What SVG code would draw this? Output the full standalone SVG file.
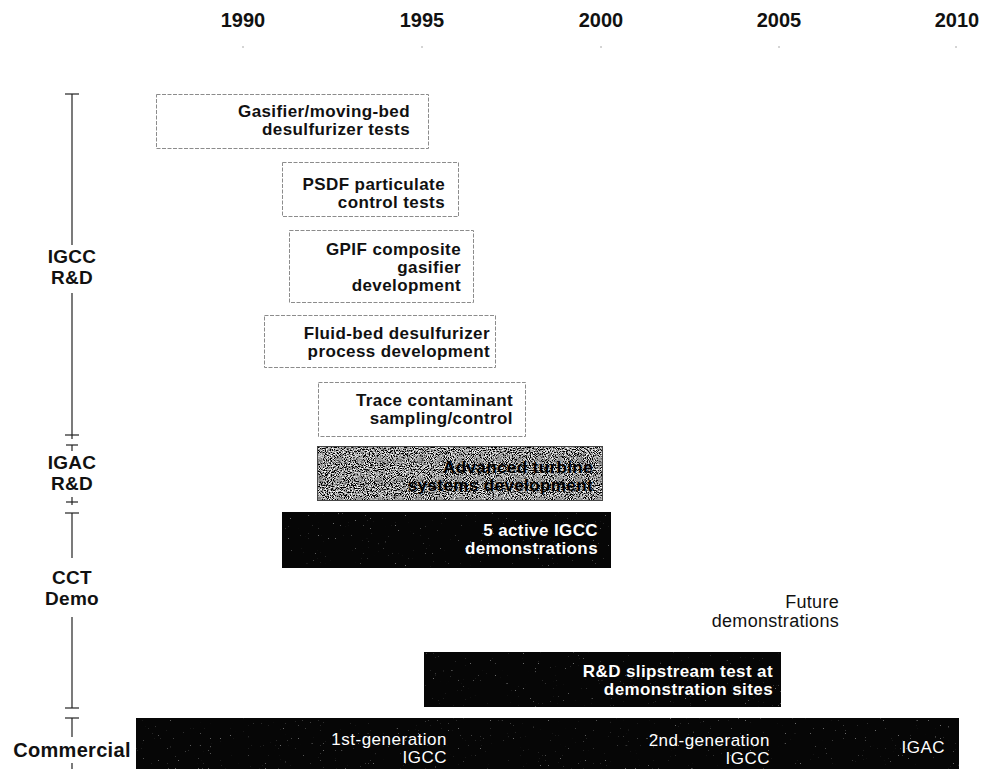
<svg xmlns="http://www.w3.org/2000/svg" width="994" height="769" viewBox="0 0 994 769">
  <style>
    .yr { font-family: "Liberation Sans", Arial, sans-serif; font-weight: bold; font-size: 20px; text-anchor: middle; fill: #111; }
    .side { font-family: "Liberation Sans", Arial, sans-serif; font-weight: bold; font-size: 19px; letter-spacing: 0.3px; text-anchor: middle; fill: #111; }
    .lbl { font-family: "Liberation Sans", Arial, sans-serif; font-weight: bold; font-size: 17px; letter-spacing: 0.4px; text-anchor: end; fill: #111; }
    .lblw { font-family: "Liberation Sans", Arial, sans-serif; font-weight: bold; font-size: 17px; letter-spacing: 0.4px; text-anchor: end; fill: #fff; }
    .reg { font-family: "Liberation Sans", Arial, sans-serif; font-size: 17px; letter-spacing: 0.5px; text-anchor: end; fill: #fff; }
    .regk { font-family: "Liberation Sans", Arial, sans-serif; font-size: 18px; letter-spacing: 0.3px; text-anchor: end; fill: #111; }
    .open { fill: #fff; stroke: #8c8c8c; stroke-width: 1; stroke-dasharray: 4 1.5; }
    .dark { fill: #060606; }
    .axis { stroke: #222; stroke-width: 1.2; fill: none; }
    .tick { stroke: #aaa; stroke-width: 1; }
  </style>
  <defs>
    <!-- fine halftone speckle for the shaded bar -->
    <filter id="grain" x="0" y="0" width="100%" height="100%">
      <feTurbulence type="fractalNoise" baseFrequency="0.95" numOctaves="2" seed="7" result="n"/>
      <feColorMatrix in="n" type="matrix" values="3 0 0 0 -1.2  3 0 0 0 -1.2  3 0 0 0 -1.2  0 0 0 0 1" result="g"/>
      <feComposite in="g" in2="SourceGraphic" operator="in"/>
    </filter>
    <!-- sparse light specks on the solid bars -->
    <filter id="specks" x="0" y="0" width="100%" height="100%">
      <feTurbulence type="fractalNoise" baseFrequency="0.6" numOctaves="1" seed="3" result="n"/>
      <feColorMatrix in="n" type="matrix" values="0 0 0 0 1  0 0 0 0 1  0 0 0 0 1  16 0 0 0 -11.6" result="s"/>
      <feComposite in="s" in2="SourceGraphic" operator="in"/>
    </filter>
  </defs>

  <rect width="994" height="769" fill="#fff"/>

  <!-- year axis -->
  <g id="axis">
    <text class="yr" x="243" y="27">1990</text>
    <text class="yr" x="422" y="27">1995</text>
    <text class="yr" x="601" y="27">2000</text>
    <text class="yr" x="779" y="27">2005</text>
    <text class="yr" x="957" y="27">2010</text>
    <line class="tick" x1="243" y1="46" x2="243" y2="48"/>
    <line class="tick" x1="422" y1="46" x2="422" y2="48"/>
    <line class="tick" x1="601" y1="46" x2="601" y2="48"/>
    <line class="tick" x1="779" y1="46" x2="779" y2="48"/>
    <line class="tick" x1="956" y1="46" x2="956" y2="48"/>
  </g>

  <!-- phase brackets on the left -->
  <g id="connectors">
    <line class="axis" x1="65" y1="94" x2="79" y2="94"/>
    <line class="axis" x1="72" y1="94" x2="72" y2="245"/>
    <line class="axis" x1="72" y1="293" x2="72" y2="439"/>
    <line class="axis" x1="65" y1="435" x2="79" y2="435"/>

    <line class="axis" x1="66" y1="445" x2="78" y2="445"/>
    <line class="axis" x1="72" y1="445" x2="72" y2="451"/>
    <line class="axis" x1="72" y1="497" x2="72" y2="505"/>
    <line class="axis" x1="66" y1="502" x2="78" y2="502"/>

    <line class="axis" x1="65" y1="513" x2="79" y2="513"/>
    <line class="axis" x1="72" y1="513" x2="72" y2="558"/>
    <line class="axis" x1="72" y1="617" x2="72" y2="708"/>
    <line class="axis" x1="65" y1="708" x2="79" y2="708"/>

    <line class="axis" x1="65" y1="718" x2="79" y2="718"/>
    <line class="axis" x1="72" y1="718" x2="72" y2="737"/>
    <line class="axis" x1="72" y1="763" x2="72" y2="769"/>
  </g>

  <g id="phase-igcc-rd">
    <text class="side" x="72" y="263">IGCC</text>
    <text class="side" x="72" y="284">R&amp;D</text>
  </g>
  <g id="phase-igac-rd">
    <text class="side" x="72" y="469">IGAC</text>
    <text class="side" x="72" y="490">R&amp;D</text>
  </g>
  <g id="phase-cct-demo">
    <text class="side" x="72" y="584">CCT</text>
    <text class="side" x="72" y="605">Demo</text>
  </g>
  <g id="phase-commercial">
    <text class="side" x="72" y="757" style="font-size:20px">Commercial</text>
  </g>

  <!-- R&D activities -->
  <g id="gasifier-tests">
    <rect class="open" x="156.5" y="94.5" width="272" height="54"/>
    <text class="lbl" x="410" y="117">Gasifier/moving-bed</text>
    <text class="lbl" x="410" y="135">desulfurizer tests</text>
  </g>
  <g id="psdf-tests">
    <rect class="open" x="282.5" y="162.5" width="176" height="54"/>
    <text class="lbl" x="445" y="190">PSDF particulate</text>
    <text class="lbl" x="445" y="208">control tests</text>
  </g>
  <g id="gpif-gasifier">
    <rect class="open" x="289.5" y="230.5" width="184" height="72"/>
    <text class="lbl" x="461" y="255">GPIF composite</text>
    <text class="lbl" x="461" y="273">gasifier</text>
    <text class="lbl" x="461" y="291">development</text>
  </g>
  <g id="fluid-bed-desulfurizer">
    <rect class="open" x="264.5" y="315.5" width="231" height="52"/>
    <text class="lbl" x="490" y="339">Fluid-bed desulfurizer</text>
    <text class="lbl" x="490" y="357">process development</text>
  </g>
  <g id="trace-contaminant">
    <rect class="open" x="318.5" y="382.5" width="207" height="54"/>
    <text class="lbl" x="513" y="406">Trace contaminant</text>
    <text class="lbl" x="513" y="424">sampling/control</text>
  </g>

  <g id="advanced-turbine">
    <rect x="317" y="446" width="286" height="55" fill="#8a8a8a"/>
    <rect x="317" y="446" width="286" height="55" fill="#000" filter="url(#grain)"/>
    <rect x="317.5" y="446.5" width="285" height="54" fill="none" stroke="#444" stroke-width="1"/>
    <text class="lbl" x="593" y="473" style="fill:#000">Advanced turbine</text>
    <text class="lbl" x="593" y="491" style="fill:#000">systems development</text>
  </g>

  <!-- demonstrations -->
  <g id="igcc-demonstrations">
    <rect class="dark" x="282" y="512" width="329" height="56"/>
    <rect x="282" y="512" width="329" height="56" fill="#000" filter="url(#specks)" opacity="0.4"/>
    <text class="lblw" x="598" y="536">5 active IGCC</text>
    <text class="lblw" x="598" y="554">demonstrations</text>
  </g>
  <g id="future-demonstrations">
    <text class="regk" x="839" y="608">Future</text>
    <text class="regk" x="839" y="627">demonstrations</text>
  </g>
  <g id="slipstream-tests">
    <rect class="dark" x="424" y="652" width="357" height="55"/>
    <rect x="424" y="652" width="357" height="55" fill="#000" filter="url(#specks)" opacity="0.4"/>
    <text class="lblw" x="773" y="677">R&amp;D slipstream test at</text>
    <text class="lblw" x="773" y="695">demonstration sites</text>
  </g>

  <!-- commercial deployment -->
  <g id="commercial-bar">
    <rect class="dark" x="136" y="718" width="823" height="51"/>
    <rect x="136" y="718" width="823" height="51" fill="#000" filter="url(#specks)" opacity="0.4"/>
    <text class="reg" x="447" y="745">1st-generation</text>
    <text class="reg" x="447" y="763">IGCC</text>
    <text class="reg" x="770" y="746">2nd-generation</text>
    <text class="reg" x="770" y="764">IGCC</text>
    <text class="reg" x="945" y="753">IGAC</text>
  </g>
</svg>
